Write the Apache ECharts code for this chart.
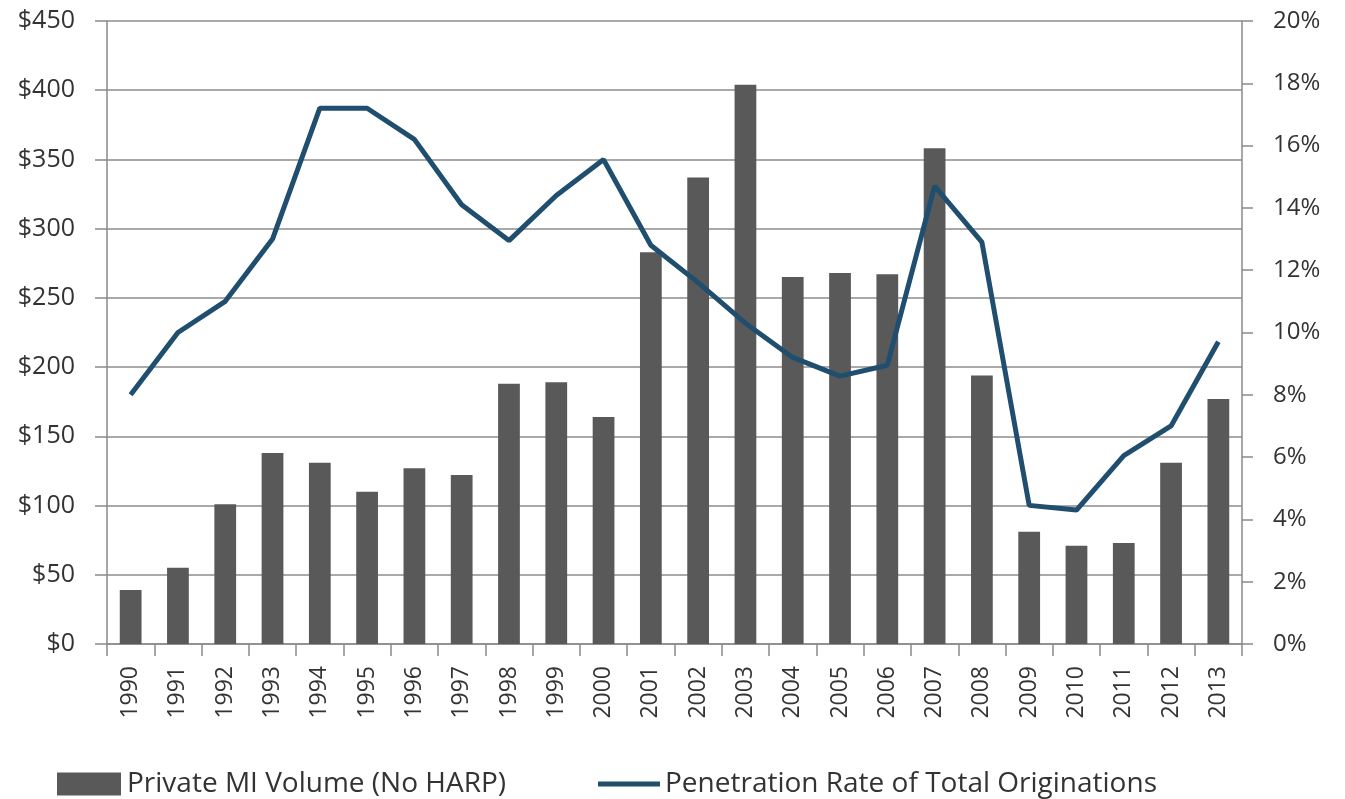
<!DOCTYPE html>
<html>
<head>
<meta charset="utf-8">
<script src="https://cdn.jsdelivr.net/npm/echarts@6/dist/echarts.min.js"></script>
<style>html,body{margin:0;padding:0;background:#fff}#c{width:1345px;height:799px}</style>
</head>
<body>
<div id="c"></div>
<script>
const years = ['1990','1991','1992','1993','1994','1995','1996','1997','1998','1999','2000','2001','2002','2003','2004','2005','2006','2007','2008','2009','2010','2011','2012','2013'];
const volume = [39,55,101,138,131,110,127,122,188,189,164,283,337,404,265,268,267,358,194,81,71,73,131,177];
const penetration = [8.0,10.0,11.0,13.0,17.2,17.2,16.2,14.1,12.95,14.4,15.55,12.8,11.6,10.3,9.2,8.6,8.95,14.7,12.9,4.45,4.3,6.05,7.0,9.7];
const leftTicks = {min:0, max:450, interval:50};
const rightTicks = {min:0, max:20, interval:2};

const font = 'Open Sans';
const txt = '#333333';
const axisGray = '#8a8a8a';
const chart = echarts.init(document.getElementById('c'));
chart.setOption({
  animation:false,
  backgroundColor:'#ffffff',
  grid:{left:107, right:103, top:21, bottom:155, containLabel:false},
  legend:[
    {left:57, top:770, padding:0, itemWidth:64, itemHeight:23, itemGap:0,
     textStyle:{fontFamily:font, fontSize:28, lineHeight:27, color:txt, padding:[0,0,0,1]},
     data:[{name:'Private MI Volume (No HARP)', icon:'rect'}]},
    {left:598, top:770, padding:0, itemWidth:62, itemHeight:5, itemGap:0,
     textStyle:{fontFamily:font, fontSize:28, lineHeight:27, color:txt, padding:[0,0,0,0]},
     data:[{name:'Penetration Rate of Total Originations', icon:'rect'}]}
  ],
  xAxis:{
    type:'category', data:years, boundaryGap:true,
    axisLine:{lineStyle:{color:axisGray, width:1.5}},
    axisTick:{show:true, length:12, lineStyle:{color:axisGray, width:1.5}},
    axisLabel:{rotate:90, interval:0, margin:22, fontFamily:font, fontSize:23, color:txt}
  },
  yAxis:[
    {type:'value', min:leftTicks.min, max:leftTicks.max, interval:leftTicks.interval, position:'left',
     axisLine:{show:true, lineStyle:{color:axisGray, width:1.5}},
     axisTick:{show:true, length:12, lineStyle:{color:axisGray, width:1.5}},
     splitLine:{show:true, lineStyle:{color:'#8c8c8c', width:1.5}},
     axisLabel:{formatter:'${value}', margin:32, fontFamily:font, fontSize:25, color:txt}},
    {type:'value', min:rightTicks.min, max:rightTicks.max, interval:rightTicks.interval, position:'right',
     axisLine:{show:true, lineStyle:{color:axisGray, width:1.5}},
     axisTick:{show:true, length:11, lineStyle:{color:axisGray, width:1.5}},
     splitLine:{show:false},
     axisLabel:{formatter:'{value}%', margin:31, fontFamily:font, fontSize:24, color:txt}}
  ],
  series:[
    {name:'Private MI Volume (No HARP)', type:'bar', yAxisIndex:0, data:volume, barWidth:'46%',
     itemStyle:{color:'#595959'}},
    {name:'Penetration Rate of Total Originations', type:'line', yAxisIndex:1, data:penetration,
     symbol:'none', lineStyle:{color:'#1f4e6e', width:5}, itemStyle:{color:'#1f4e6e'}, z:5}
  ]
});
</script>
</body>
</html>
